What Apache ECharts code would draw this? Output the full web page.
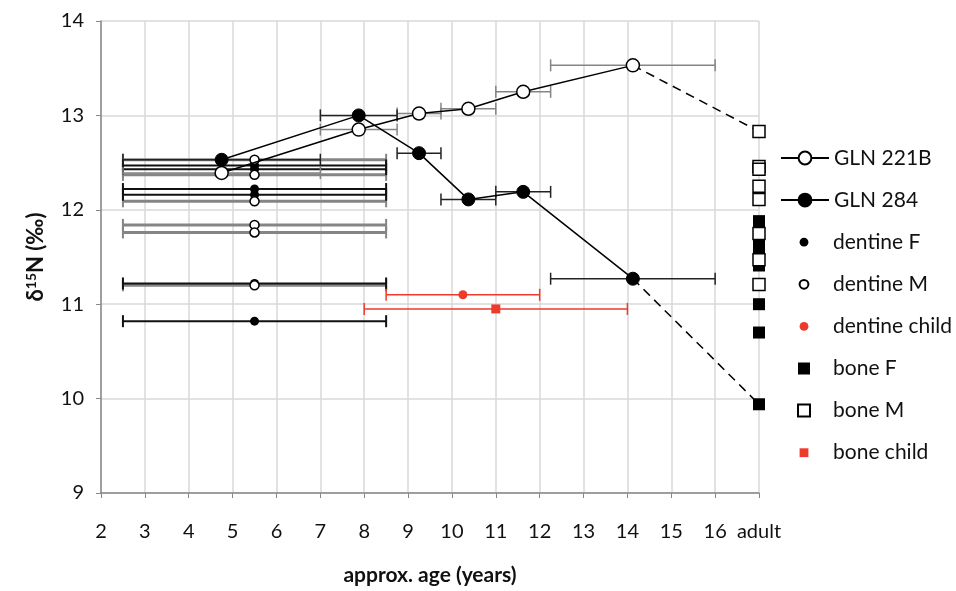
<!DOCTYPE html>
<html>
<head>
<meta charset="utf-8">
<script src="https://cdn.jsdelivr.net/npm/echarts@6/dist/echarts.min.js"></script>
<style>html,body{margin:0;padding:0;background:#fff}#c{width:956px;height:591px}</style>
</head>
<body>
<div id="c"></div>
<script>
// ---- data ----
const xTicks = [2,3,4,5,6,7,8,9,10,11,12,13,14,15,16,17];
const adultX = 17;
// GLN 221B: [age, d15N, ageLow, ageHigh]
const gln221B = [[4.75,12.39,2.5,7],[7.875,12.85,7,8.75],[9.25,13.02,8.75,9.75],[10.375,13.07,9.75,11],[11.625,13.25,11,12.25],[14.125,13.53,12.25,16]];
const gln221BAdult = 12.83;
// GLN 284
const gln284 = [[4.75,12.53,2.5,7],[7.875,13.00,7,8.75],[9.25,12.60,8.75,9.75],[10.375,12.11,9.75,11],[11.625,12.19,11,12.25],[14.125,11.27,12.25,16]];
const gln284Adult = 9.94;
// dentine (age 5.5, range 2.5-8.5)
const dentineF = [12.47,12.43,12.22,12.16,11.22,10.82];
const dentineM = [12.53,12.37,12.09,11.84,11.76,11.20];
const dentineAge = [5.5,2.5,8.5];
const dentineChild = [[10.25,11.10,8.5,12]];
// bone (adult)
const boneF = [11.88,11.63,11.55,11.41,11.00,10.70,9.94];
const boneM = [12.83,12.46,12.43,12.25,12.11,11.75,11.47,11.21];
const boneChild = [[11,10.95,8,14]];

const legendNames = ['GLN 221B','GLN 284','dentine F','dentine M','dentine child','bone F','bone M','bone child'];

// ---- helpers ----
function errRender(color, lw){
  return function(params, api){
    const y = api.value(1);
    const p1 = api.coord([api.value(2), y]);
    const p2 = api.coord([api.value(3), y]);
    const h = 6;
    const style = {stroke: color, lineWidth: lw};
    const capStyle = {stroke: color, lineWidth: Math.min(lw, 2)};
    return {type:'group', children:[
      {type:'line', shape:{x1:p1[0],y1:p1[1],x2:p2[0],y2:p2[1]}, style:style},
      {type:'line', shape:{x1:p1[0],y1:p1[1]-h,x2:p1[0],y2:p1[1]+h}, style:capStyle},
      {type:'line', shape:{x1:p2[0],y1:p2[1]-h,x2:p2[0],y2:p2[1]+h}, style:capStyle}
    ]};
  };
}
function errSeries(data, color, lw){
  return {type:'custom', renderItem: errRender(color, lw), data: data, z: 1, silent: true,
          encode:{x:[0,2,3], y:1}, animation:false};
}
// markers-only series (line type with invisible line, for a consistent legend icon)
function markSeries(name, data, symbol, size, itemStyle){
  return {type:'line', name:name, data:data, symbol:symbol, symbolSize:size, itemStyle:itemStyle,
    lineStyle:{color:'rgba(0,0,0,0)', width:0, opacity:0}, z:3, animation:false};
}
const RED = '#ee3a2c';
const GRAY = '#858585';
const FONT = 'Lato';

const dF = dentineF.map(v => [dentineAge[0], v, dentineAge[1], dentineAge[2]]);
const dM = dentineM.map(v => [dentineAge[0], v, dentineAge[1], dentineAge[2]]);

const series = [
  errSeries(dM, GRAY, 3),
  errSeries(dF, '#111', 2),
  errSeries(gln221B, GRAY, 1.5),
  errSeries(gln284, '#222', 1.5),
  errSeries(dentineChild, RED, 1.5),
  errSeries(boneChild, RED, 1.5),
  {type:'line', name:'GLN 221B', data: gln221B.map(d=>[d[0],d[1]]), symbol:'circle', symbolSize:13,
   itemStyle:{color:'#fff', borderColor:'#000', borderWidth:1.5}, lineStyle:{color:'#000', width:1.5}, z:4, animation:false},
  {type:'line', data: [[gln221B[5][0],gln221B[5][1]],[adultX,gln221BAdult]], symbol:'none',
   lineStyle:{color:'#000', width:1.5, type:[9,6]}, z:2, animation:false},
  {type:'line', name:'GLN 284', data: gln284.map(d=>[d[0],d[1]]), symbol:'circle', symbolSize:13,
   itemStyle:{color:'#000', borderColor:'#000', borderWidth:1}, lineStyle:{color:'#000', width:1.5}, z:4, animation:false},
  {type:'line', data: [[gln284[5][0],gln284[5][1]],[adultX,gln284Adult]], symbol:'none',
   lineStyle:{color:'#000', width:1.5, type:[9,6]}, z:2, animation:false},
  markSeries('dentine F', dF.map(d=>[d[0],d[1]]), 'circle', 9, {color:'#000'}),
  markSeries('dentine M', dM.map(d=>[d[0],d[1]]), 'circle', 9, {color:'#fff', borderColor:'#000', borderWidth:1.5}),
  markSeries('dentine child', dentineChild.map(d=>[d[0],d[1]]), 'circle', 9, {color:RED}),
  markSeries('bone F', boneF.map(v=>[adultX,v]), 'rect', 12, {color:'#000'}),
  markSeries('bone M', boneM.map(v=>[adultX,v]), 'rect', 12, {color:'#fff', borderColor:'#000', borderWidth:1.5}),
  markSeries('bone child', boneChild.map(d=>[d[0],d[1]]), 'rect', 9, {color:RED})
];

const legendH = [16,16,11,11,11,15,15,11];
const legends = legendNames.map((n,i) => ({
  data:[n], left: 780, top: 158 + i*42.1 - 12, orient:'vertical', padding:0,
  itemWidth:48, itemHeight: legendH[i], itemGap:0, selectedMode:false,
  textStyle:{fontFamily:FONT, fontSize:21, color:'#111', lineHeight:24}
}));

const option = {
  animation:false,
  backgroundColor:'#fff',
  grid:{left:101, right:197, top:21, bottom:98},
  legend: legends,
  xAxis:{type:'value', min:2, max:17, interval:1,
    name:'approx. age (years)', nameLocation:'middle', nameGap:72,
    nameTextStyle:{fontFamily:FONT, fontSize:21, fontWeight:'bold', color:'#111'},
    axisLine:{show:true, lineStyle:{color:'#888', width:1.5}},
    axisTick:{show:true, length:5, lineStyle:{color:'#888'}},
    axisLabel:{margin:29, fontFamily:FONT, fontSize:20, color:'#111',
      formatter: v => (v === adultX ? 'adult' : String(v))},
    splitLine:{show:true, lineStyle:{color:'#d9d9d9', width:1.5}}
  },
  yAxis:{type:'value', min:9, max:14, interval:1,
    name:'{b|δ}{s|15}{b|N (‰)}', nameLocation:'middle', nameGap:54,
    nameTextStyle:{rich:{
      b:{fontFamily:FONT, fontSize:22, fontWeight:'bold', color:'#111'},
      s:{fontFamily:FONT, fontSize:14, fontWeight:'bold', color:'#111', padding:[0,0,9,0]}
    }},
    axisLine:{show:true, lineStyle:{color:'#888', width:1.5}},
    axisTick:{show:true, length:5, lineStyle:{color:'#888'}},
    axisLabel:{margin:17, fontFamily:FONT, fontSize:20, color:'#111'},
    splitLine:{show:true, lineStyle:{color:'#d9d9d9', width:1.5}}
  },
  series: series
};
const chart = echarts.init(document.getElementById('c'), null, {renderer:'canvas'});
chart.setOption(option);
</script>
</body>
</html>
